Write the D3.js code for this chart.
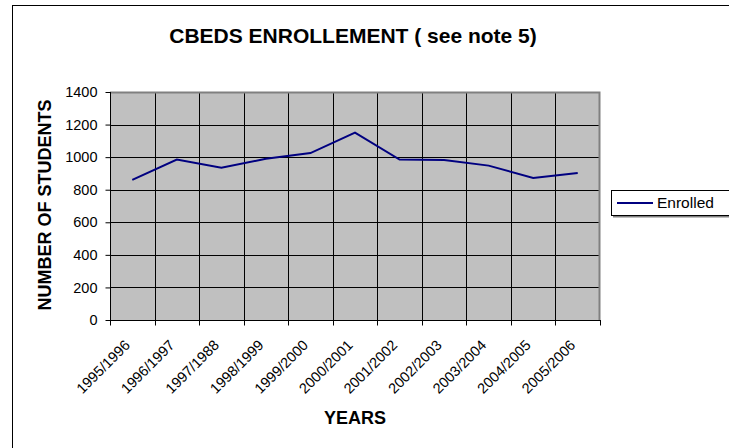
<!DOCTYPE html>
<html>
<head>
<meta charset="utf-8">
<script src="https://cdn.jsdelivr.net/npm/d3@7/dist/d3.min.js"></script>
<style>
  html, body { margin: 0; padding: 0; background: #fff; }
  svg { display: block; font-family: Arial, "Liberation Sans", sans-serif; }
</style>
</head>
<body>
<svg id="chart" width="729" height="448"></svg>
<script>
// School years on the category axis
const years = ["1995/1996", "1996/1997", "1997/1988", "1998/1999", "1999/2000",
               "2000/2001", "2001/2002", "2002/2003", "2003/2004", "2004/2005", "2005/2006"];
// Enrolled students per year
const enrolled = [860, 985, 935, 990, 1025, 1150, 985, 983, 948, 872, 903];
// Value axis ticks
const yTicks = [0, 200, 400, 600, 800, 1000, 1200, 1400];

const svg = d3.select("#chart");
const plot = { left: 110, top: 92, right: 600, bottom: 320 };

// Outer chart frame (runs off the right and bottom edges)
svg.append("rect")
  .attr("x", 12.5).attr("y", 5.5)
  .attr("width", 800).attr("height", 500)
  .attr("fill", "#fff").attr("stroke", "#000").attr("stroke-width", 1);

const x = d3.scaleBand().domain(years).range([plot.left, plot.right]).padding(0);
const y = d3.scaleLinear().domain([0, 1400]).range([plot.bottom, plot.top]);

// Plot area background
svg.append("rect")
  .attr("x", plot.left).attr("y", plot.top)
  .attr("width", plot.right - plot.left).attr("height", plot.bottom - plot.top)
  .attr("fill", "#c0c0c0");

// Horizontal gridlines
svg.append("g")
  .selectAll("line")
  .data(yTicks.filter(d => d > 0 && d < 1400))
  .join("line")
  .attr("x1", plot.left).attr("x2", plot.right)
  .attr("y1", d => Math.round(y(d)) + 0.5).attr("y2", d => Math.round(y(d)) + 0.5)
  .attr("stroke", "#000").attr("stroke-width", 1);

// Vertical gridlines at category boundaries
const bounds = years.map(d => x(d)).slice(1);
svg.append("g")
  .selectAll("line")
  .data(bounds)
  .join("line")
  .attr("x1", d => Math.round(d) + 0.5).attr("x2", d => Math.round(d) + 0.5)
  .attr("y1", plot.top).attr("y2", plot.bottom)
  .attr("stroke", "#000").attr("stroke-width", 1);

// Plot area border (grey top and right)
svg.append("path")
  .attr("d", `M${plot.left},${plot.top + 0.5}H${plot.right - 0.5}V${plot.bottom}`)
  .attr("fill", "none").attr("stroke", "#808080").attr("stroke-width", 2);

// Y axis
const yAxis = d3.axisLeft(y).tickValues(yTicks).tickFormat(d3.format("d"))
  .tickSize(5).tickPadding(8);
const gy = svg.append("g")
  .attr("transform", `translate(${plot.left + 0.5},0)`)
  .call(yAxis);
gy.select(".domain").attr("stroke", "#000").attr("d", `M0,${plot.top}V${plot.bottom}`);
gy.selectAll(".tick line").attr("stroke", "#000");
gy.selectAll(".tick text")
  .attr("font-size", 14.5).attr("fill", "#000")
  .attr("font-family", "Arial, 'Liberation Sans', sans-serif");

// X axis: ticks at category boundaries, labels rotated
const gx = svg.append("g").attr("transform", `translate(0,${plot.bottom + 0.5})`);
gx.append("line")
  .attr("x1", plot.left).attr("x2", plot.right + 1)
  .attr("stroke", "#000");
gx.selectAll("line.tk")
  .data([plot.left, ...bounds, plot.right])
  .join("line").attr("class", "tk")
  .attr("x1", d => Math.round(d) + 0.5).attr("x2", d => Math.round(d) + 0.5)
  .attr("y1", 0).attr("y2", 5)
  .attr("stroke", "#000");
gx.selectAll("text")
  .data(years)
  .join("text")
  .attr("transform", d => `translate(${x(d) + x.bandwidth() / 2 - 5},${22}) rotate(-45)`)
  .attr("text-anchor", "end")
  .attr("dy", "0.35em")
  .attr("font-size", 14.5)
  .attr("fill", "#000")
  .text(d => d);

// Enrollment line
const line = d3.line()
  .x((d, i) => x(years[i]) + x.bandwidth() / 2)
  .y(d => y(d));
svg.append("path")
  .datum(enrolled)
  .attr("d", line)
  .attr("fill", "none")
  .attr("stroke", "#000080")
  .attr("stroke-width", 2);

// Titles
svg.append("text")
  .attr("x", 353).attr("y", 43)
  .attr("text-anchor", "middle")
  .attr("font-size", 21).attr("font-weight", "bold")
  .text("CBEDS ENROLLEMENT ( see note 5)");

svg.append("text")
  .attr("x", 355).attr("y", 424)
  .attr("text-anchor", "middle")
  .attr("font-size", 18).attr("font-weight", "bold")
  .text("YEARS");

svg.append("text")
  .attr("transform", "translate(51,205) rotate(-90)")
  .attr("text-anchor", "middle")
  .attr("font-size", 18).attr("font-weight", "bold")
  .text("NUMBER OF STUDENTS");

// Legend
const lg = svg.append("g");
lg.append("rect")
  .attr("x", 613).attr("y", 192).attr("width", 200).attr("height", 25.5)
  .attr("fill", "#808080");
lg.append("rect")
  .attr("x", 611.5).attr("y", 190.5).attr("width", 200).attr("height", 25)
  .attr("fill", "#fff").attr("stroke", "#000");
lg.append("line")
  .attr("x1", 617).attr("x2", 653).attr("y1", 203).attr("y2", 203)
  .attr("stroke", "#000080").attr("stroke-width", 2);
lg.append("text")
  .attr("x", 657).attr("y", 203).attr("dy", "0.35em")
  .attr("font-size", 15.5)
  .text("Enrolled");
</script>
</body>
</html>
